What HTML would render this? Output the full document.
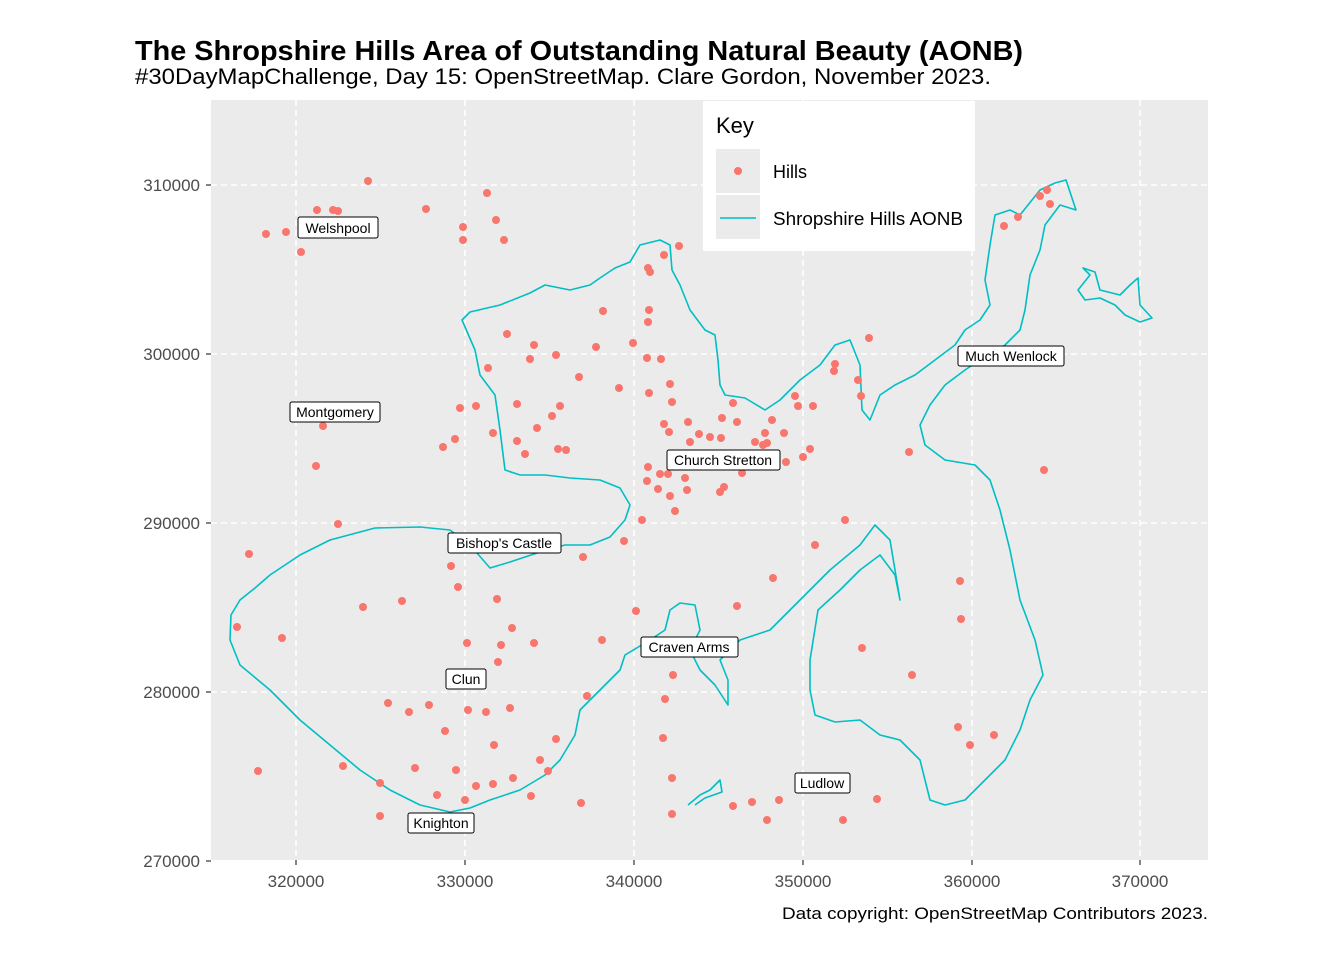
<!DOCTYPE html>
<html><head><meta charset="utf-8"><style>
body{margin:0;background:#fff;}
svg text{font-family:"Liberation Sans",Arial,sans-serif;}
</style></head><body>
<svg width="1344" height="960" viewBox="0 0 1344 960" xmlns="http://www.w3.org/2000/svg">
<rect width="1344" height="960" fill="#fff"/>
<text x="135" y="60" font-size="28" font-weight="bold" fill="#000" textLength="888" lengthAdjust="spacingAndGlyphs">The Shropshire Hills Area of Outstanding Natural Beauty (AONB)</text>
<text x="135" y="84" font-size="22" fill="#000" textLength="856" lengthAdjust="spacingAndGlyphs">#30DayMapChallenge, Day 15: OpenStreetMap. Clare Gordon, November 2023.</text>
<rect x="211" y="100" width="997" height="760" fill="#ebebeb"/>
<g stroke="#fff" stroke-width="1.6" stroke-dasharray="6,4">
<line x1="296" y1="100" x2="296" y2="860"/><line x1="465" y1="100" x2="465" y2="860"/><line x1="634" y1="100" x2="634" y2="860"/><line x1="803" y1="100" x2="803" y2="860"/><line x1="972" y1="100" x2="972" y2="860"/><line x1="1140" y1="100" x2="1140" y2="860"/>
<line x1="211" y1="185" x2="1208" y2="185"/><line x1="211" y1="354" x2="1208" y2="354"/><line x1="211" y1="523" x2="1208" y2="523"/><line x1="211" y1="692" x2="1208" y2="692"/>
</g>
<g fill="none" stroke="#00bfc4" stroke-width="1.6" stroke-linejoin="round">
<path d="M231,615 L240,600 L255,588 L270,575 L300,555 L330,540 L375,528 L420,527 L450,530 L470,545 L490,568 L510,562 L540,552 L565,545 L590,545 L610,537 L625,520 L630,505 L620,488 L600,480 L570,478 L545,475 L520,475 L505,470 L500,430 L495,395 L480,375 L475,350 L462,320 L470,312 L500,305 L530,293 L545,285 L570,290 L590,285 L600,278 L615,268 L630,262 L640,245 L660,240 L670,245 L672,270 L680,285 L690,310 L705,330 L715,335 L718,360 L720,385 L725,395 L745,398 L765,410 L780,400 L800,380 L820,365 L835,345 L850,340 L860,365 L862,410 L870,420 L880,395 L895,385 L915,375 L935,360 L955,345 L965,330 L980,320 L990,305 L985,280 L990,245 L995,215 L1010,210 L1020,215 L1040,190 L1055,183 L1066,180 L1076,210 L1060,205 L1045,225 L1040,250 L1030,275 L1025,310 L1020,330 L1005,345 L980,360 L965,370 L945,385 L930,405 L920,425 L925,445 L945,460 L975,465 L990,480 L1000,510 L1010,550 L1020,600 L1035,640 L1043,675 L1030,700 L1020,730 L1005,760 L985,780 L965,800 L945,805 L930,800 L920,760 L900,740 L880,735 L860,720 L835,722 L815,715 L810,690 L810,660 L818,610 L840,590 L860,570 L880,555 L895,575 L900,600 L890,540 L875,525 L860,545 L830,570 L810,590 L790,610 L770,630 L740,640 L720,660 L728,680 L728,705 L715,685 L700,670 L690,650 L700,630 L695,605 L680,603 L670,610 L665,630 L650,640 L625,655 L620,670 L600,690 L580,710 L575,735 L560,760 L545,775 L520,790 L490,800 L470,808 L450,812 L420,805 L390,790 L360,770 L330,745 L300,720 L270,690 L240,665 L230,640 Z"/>
<path d="M1083,268 L1090,275 L1078,290 L1085,300 L1100,298 L1115,305 L1125,315 L1140,322 L1152,318 L1140,305 L1138,278 L1130,285 L1120,295 L1100,290 L1095,272 Z"/>
<path d="M688,805 L700,795 L710,790 L720,780 L722,792 L705,798 L695,805"/>
</g>
<g fill="#f8766d">
<circle cx="368" cy="181" r="4"/><circle cx="317" cy="210" r="4"/><circle cx="333" cy="210" r="4"/><circle cx="338" cy="211" r="4"/><circle cx="266" cy="234" r="4"/><circle cx="286" cy="232" r="4"/><circle cx="301" cy="252" r="4"/><circle cx="426" cy="209" r="4"/><circle cx="487" cy="193" r="4"/><circle cx="496" cy="220" r="4"/><circle cx="463" cy="227" r="4"/><circle cx="463" cy="240" r="4"/><circle cx="504" cy="240" r="4"/><circle cx="664" cy="255" r="4"/><circle cx="679" cy="246" r="4"/><circle cx="648" cy="268" r="4"/><circle cx="650" cy="272" r="4"/><circle cx="603" cy="311" r="4"/><circle cx="649" cy="310" r="4"/><circle cx="648" cy="322" r="4"/><circle cx="507" cy="334" r="4"/><circle cx="534" cy="345" r="4"/><circle cx="530" cy="359" r="4"/><circle cx="556" cy="355" r="4"/><circle cx="488" cy="368" r="4"/><circle cx="596" cy="347" r="4"/><circle cx="633" cy="343" r="4"/><circle cx="647" cy="358" r="4"/><circle cx="661" cy="359" r="4"/><circle cx="579" cy="377" r="4"/><circle cx="619" cy="388" r="4"/><circle cx="649" cy="393" r="4"/><circle cx="670" cy="384" r="4"/><circle cx="672" cy="402" r="4"/><circle cx="517" cy="404" r="4"/><circle cx="476" cy="406" r="4"/><circle cx="460" cy="408" r="4"/><circle cx="560" cy="406" r="4"/><circle cx="552" cy="416" r="4"/><circle cx="537" cy="428" r="4"/><circle cx="323" cy="426" r="4"/><circle cx="316" cy="466" r="4"/><circle cx="455" cy="439" r="4"/><circle cx="493" cy="433" r="4"/><circle cx="517" cy="441" r="4"/><circle cx="525" cy="454" r="4"/><circle cx="443" cy="447" r="4"/><circle cx="558" cy="449" r="4"/><circle cx="566" cy="450" r="4"/><circle cx="664" cy="424" r="4"/><circle cx="669" cy="432" r="4"/><circle cx="688" cy="422" r="4"/><circle cx="699" cy="434" r="4"/><circle cx="690" cy="442" r="4"/><circle cx="710" cy="437" r="4"/><circle cx="721" cy="438" r="4"/><circle cx="722" cy="418" r="4"/><circle cx="737" cy="422" r="4"/><circle cx="733" cy="403" r="4"/><circle cx="755" cy="442" r="4"/><circle cx="763" cy="445" r="4"/><circle cx="767" cy="443" r="4"/><circle cx="765" cy="433" r="4"/><circle cx="772" cy="420" r="4"/><circle cx="784" cy="433" r="4"/><circle cx="795" cy="396" r="4"/><circle cx="798" cy="406" r="4"/><circle cx="813" cy="406" r="4"/><circle cx="810" cy="449" r="4"/><circle cx="803" cy="457" r="4"/><circle cx="786" cy="462" r="4"/><circle cx="648" cy="467" r="4"/><circle cx="660" cy="474" r="4"/><circle cx="668" cy="474" r="4"/><circle cx="647" cy="481" r="4"/><circle cx="685" cy="478" r="4"/><circle cx="687" cy="490" r="4"/><circle cx="658" cy="489" r="4"/><circle cx="670" cy="496" r="4"/><circle cx="724" cy="487" r="4"/><circle cx="720" cy="492" r="4"/><circle cx="742" cy="473" r="4"/><circle cx="675" cy="511" r="4"/><circle cx="642" cy="520" r="4"/><circle cx="624" cy="541" r="4"/><circle cx="583" cy="557" r="4"/><circle cx="338" cy="524" r="4"/><circle cx="249" cy="554" r="4"/><circle cx="451" cy="566" r="4"/><circle cx="458" cy="587" r="4"/><circle cx="497" cy="599" r="4"/><circle cx="363" cy="607" r="4"/><circle cx="402" cy="601" r="4"/><circle cx="636" cy="611" r="4"/><circle cx="737" cy="606" r="4"/><circle cx="773" cy="578" r="4"/><circle cx="237" cy="627" r="4"/><circle cx="282" cy="638" r="4"/><circle cx="467" cy="643" r="4"/><circle cx="501" cy="645" r="4"/><circle cx="512" cy="628" r="4"/><circle cx="534" cy="643" r="4"/><circle cx="602" cy="640" r="4"/><circle cx="498" cy="662" r="4"/><circle cx="673" cy="675" r="4"/><circle cx="665" cy="699" r="4"/><circle cx="587" cy="696" r="4"/><circle cx="388" cy="703" r="4"/><circle cx="409" cy="712" r="4"/><circle cx="429" cy="705" r="4"/><circle cx="445" cy="731" r="4"/><circle cx="468" cy="710" r="4"/><circle cx="486" cy="712" r="4"/><circle cx="510" cy="708" r="4"/><circle cx="494" cy="745" r="4"/><circle cx="556" cy="739" r="4"/><circle cx="540" cy="760" r="4"/><circle cx="548" cy="771" r="4"/><circle cx="513" cy="778" r="4"/><circle cx="493" cy="784" r="4"/><circle cx="476" cy="786" r="4"/><circle cx="456" cy="770" r="4"/><circle cx="415" cy="768" r="4"/><circle cx="343" cy="766" r="4"/><circle cx="258" cy="771" r="4"/><circle cx="380" cy="783" r="4"/><circle cx="437" cy="795" r="4"/><circle cx="465" cy="800" r="4"/><circle cx="531" cy="796" r="4"/><circle cx="581" cy="803" r="4"/><circle cx="663" cy="738" r="4"/><circle cx="672" cy="778" r="4"/><circle cx="672" cy="814" r="4"/><circle cx="733" cy="806" r="4"/><circle cx="752" cy="802" r="4"/><circle cx="767" cy="820" r="4"/><circle cx="779" cy="800" r="4"/><circle cx="843" cy="820" r="4"/><circle cx="877" cy="799" r="4"/><circle cx="845" cy="520" r="4"/><circle cx="815" cy="545" r="4"/><circle cx="862" cy="648" r="4"/><circle cx="912" cy="675" r="4"/><circle cx="960" cy="581" r="4"/><circle cx="961" cy="619" r="4"/><circle cx="958" cy="727" r="4"/><circle cx="970" cy="745" r="4"/><circle cx="994" cy="735" r="4"/><circle cx="869" cy="338" r="4"/><circle cx="858" cy="380" r="4"/><circle cx="861" cy="396" r="4"/><circle cx="835" cy="364" r="4"/><circle cx="834" cy="371" r="4"/><circle cx="909" cy="452" r="4"/><circle cx="1044" cy="470" r="4"/><circle cx="1004" cy="226" r="4"/><circle cx="1018" cy="217" r="4"/><circle cx="1040" cy="196" r="4"/><circle cx="1047" cy="190" r="4"/><circle cx="1050" cy="204" r="4"/><circle cx="380" cy="816" r="4"/>
</g>
<g font-size="14" fill="#000">
<rect x="298" y="217" width="80" height="21" rx="2" fill="#fff" stroke="#000"/><text x="338" y="233" text-anchor="middle">Welshpool</text>
<rect x="290" y="402" width="90" height="20" rx="2" fill="#fff" stroke="#000"/><text x="335" y="417" text-anchor="middle">Montgomery</text>
<rect x="667" y="450" width="113" height="20" rx="2" fill="#fff" stroke="#000"/><text x="723" y="465" text-anchor="middle">Church Stretton</text>
<rect x="958" y="346" width="106" height="20" rx="2" fill="#fff" stroke="#000"/><text x="1011" y="361" text-anchor="middle">Much Wenlock</text>
<rect x="448" y="533" width="113" height="20" rx="2" fill="#fff" stroke="#000"/><text x="504" y="548" text-anchor="middle">Bishop's Castle</text>
<rect x="641" y="637" width="97" height="20" rx="2" fill="#fff" stroke="#000"/><text x="689" y="652" text-anchor="middle">Craven Arms</text>
<rect x="446" y="669" width="40" height="20" rx="2" fill="#fff" stroke="#000"/><text x="466" y="684" text-anchor="middle">Clun</text>
<rect x="795" y="773" width="55" height="20" rx="2" fill="#fff" stroke="#000"/><text x="822" y="788" text-anchor="middle">Ludlow</text>
<rect x="408" y="813" width="66" height="20" rx="2" fill="#fff" stroke="#000"/><text x="441" y="828" text-anchor="middle">Knighton</text>
</g>
<rect x="703" y="101" width="272" height="150" fill="#fff"/>
<text x="716" y="133" font-size="22" fill="#000">Key</text>
<rect x="716" y="149" width="44" height="44" fill="#ebebeb"/>
<rect x="716" y="195" width="44" height="44" fill="#ebebeb"/>
<circle cx="738" cy="171" r="4" fill="#f8766d"/>
<line x1="720" y1="218" x2="756" y2="218" stroke="#00bfc4" stroke-width="1.6"/>
<text x="773" y="178" font-size="18" fill="#000">Hills</text>
<text x="773" y="225" font-size="18" fill="#000" textLength="190" lengthAdjust="spacingAndGlyphs">Shropshire Hills AONB</text>
<g stroke="#333" stroke-width="1.2">
<line x1="296" y1="860" x2="296" y2="865"/><line x1="465" y1="860" x2="465" y2="865"/><line x1="634" y1="860" x2="634" y2="865"/><line x1="803" y1="860" x2="803" y2="865"/><line x1="972" y1="860" x2="972" y2="865"/><line x1="1140" y1="860" x2="1140" y2="865"/>
<line x1="206" y1="185" x2="211" y2="185"/><line x1="206" y1="354" x2="211" y2="354"/><line x1="206" y1="523" x2="211" y2="523"/><line x1="206" y1="692" x2="211" y2="692"/><line x1="206" y1="861" x2="211" y2="861"/>
</g>
<g font-size="17" fill="#4d4d4d">
<text x="296" y="887" text-anchor="middle">320000</text><text x="465" y="887" text-anchor="middle">330000</text><text x="634" y="887" text-anchor="middle">340000</text><text x="803" y="887" text-anchor="middle">350000</text><text x="972" y="887" text-anchor="middle">360000</text><text x="1140" y="887" text-anchor="middle">370000</text>
<text x="200" y="191" text-anchor="end">310000</text><text x="200" y="360" text-anchor="end">300000</text><text x="200" y="529" text-anchor="end">290000</text><text x="200" y="698" text-anchor="end">280000</text><text x="200" y="867" text-anchor="end">270000</text>
</g>
<text x="1208" y="919" font-size="17" fill="#000" text-anchor="end" textLength="426" lengthAdjust="spacingAndGlyphs">Data copyright: OpenStreetMap Contributors 2023.</text>
</svg>
</body></html>
